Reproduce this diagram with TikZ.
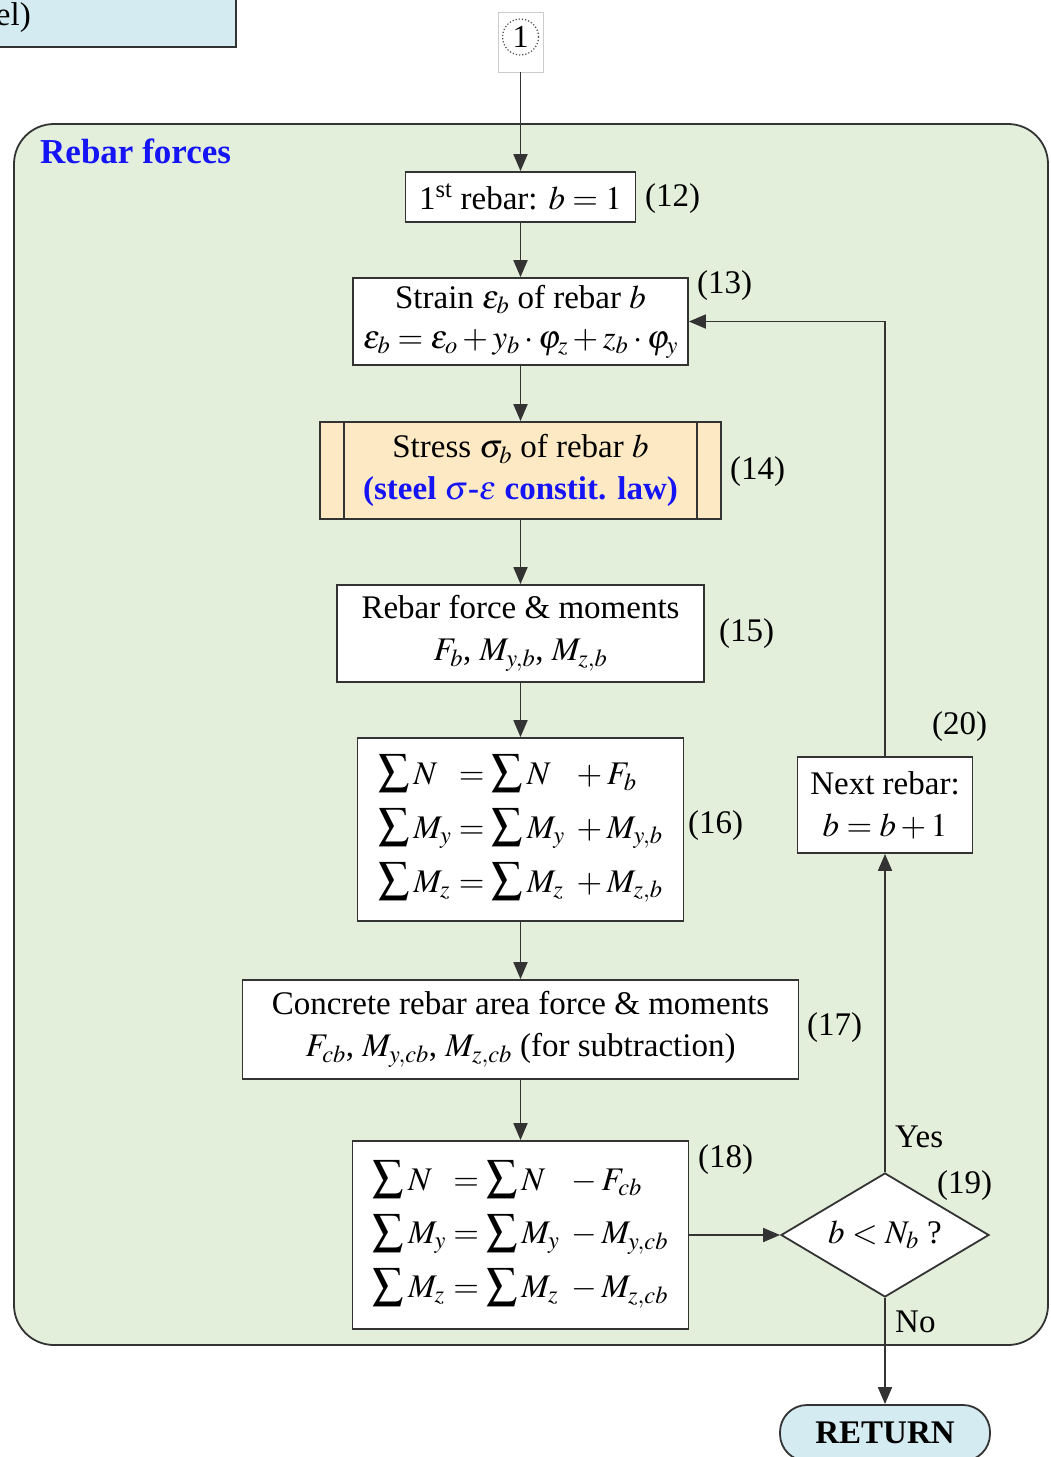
\documentclass[tikz,border=0pt]{standalone}
\usepackage{mathptmx}
\usepackage{fontspec}
\setmainfont{Liberation Serif}
\usetikzlibrary{arrows.meta,shapes.geometric}
\definecolor{linec}{HTML}{333333}
\definecolor{grn}{HTML}{E3EFDA}
\definecolor{orng}{HTML}{FDEAC4}
\definecolor{lblue}{HTML}{D4EBF1}
\definecolor{tblue}{HTML}{1414F5}
\newcommand\fs{\fontsize{33}{40}\selectfont}
\newcommand\bsum{\mathop{\mbox{\fontsize{44}{44}\selectfont$\sum$}}\nolimits}
\tikzset{
  pbox/.style={draw=linec, line width=1.8pt, fill=white, inner sep=0pt, align=center, font=\fs},
  lbl/.style={font=\fs, inner sep=0pt, anchor=west},
  conn/.style={draw=linec, line width=1.8pt, -{Triangle[length=17pt,width=14pt]}},
}
\begin{document}
\begin{tikzpicture}[x=1pt,y=-1pt]
\useasboundingbox (0,0) rectangle (1050,1457);
\clip (0,0) rectangle (1050,1457);
% partial box top left
\draw[draw=linec, line width=1.8pt, fill=lblue] (-60,-60) rectangle (236,47);
\node[lbl, anchor=east] (tl) at (31,18) {el)};
% container
\draw[draw=linec, line width=1.8pt, fill=grn, rounded corners=40pt] (14,124) rectangle (1048,1345);
\node[lbl, font=\fontsize{35}{40}\selectfont\bfseries, text=tblue] (title) at (40,151) {Rebar forces};
% connector 1
\node[draw=black!20, line width=0.8pt, minimum width=45pt, minimum height=60pt, inner sep=0pt] (c1) at (520.5,42) {};
\node[draw=black!70, dotted, line width=1.2pt, circle, minimum size=36pt, inner sep=0pt, font=\fontsize{32}{34}\selectfont] (c1t) at (520.5,37) {1};
% boxes
\node[pbox, minimum width=230pt, minimum height=50pt] (b12) at (520.5,197) {1\textsuperscript{st} rebar: $b=1$};
\node[pbox, minimum width=335pt, minimum height=87pt] (b13) at (520.5,321.5) {Strain $\varepsilon_b$ of rebar $b$\\[0pt] $\varepsilon_b=\varepsilon_o+y_b\cdot\varphi_z+z_b\cdot\varphi_y$};
\node[pbox, fill=orng, minimum width=401pt, minimum height=97pt] (b14) at (520.5,470.5) {Stress $\sigma_b$ of rebar $b$\\[2pt] \textcolor{tblue}{\bfseries (steel $\sigma$-$\varepsilon$ constit. law)}};
\draw[draw=linec, line width=1.8pt] ([xshift=25pt]b14.north west) -- ([xshift=25pt]b14.south west);
\draw[draw=linec, line width=1.8pt] ([xshift=-25pt]b14.north east) -- ([xshift=-25pt]b14.south east);
\node[pbox, minimum width=367pt, minimum height=97pt] (b15) at (520.5,633.5) {Rebar force \& moments\\[2pt] $F_b$, $M_{y,b}$, $M_{z,b}$};
\node[pbox, minimum width=326pt, minimum height=183pt] (b16) at (520.5,829.5) {$\begin{array}{@{}l@{\;}c@{\;}l@{\;}l@{}}
\bsum N & = & \bsum N & {}+F_b\\[12pt]
\bsum M_y & = & \bsum M_y & {}+M_{y,b}\\[12pt]
\bsum M_z & = & \bsum M_z & {}+M_{z,b}
\end{array}$};
\node[pbox, minimum width=556pt, minimum height=99pt] (b17) at (520.5,1029.5) {Concrete rebar area force \& moments\\[2pt] $F_{cb}$, $M_{y,cb}$, $M_{z,cb}$ (for subtraction)};
\node[pbox, minimum width=336pt, minimum height=188pt] (b18) at (520.5,1235) {$\begin{array}{@{}l@{\;}c@{\;}l@{\;}l@{}}
\bsum N & = & \bsum N & {}-F_{cb}\\[12pt]
\bsum M_y & = & \bsum M_y & {}-M_{y,cb}\\[12pt]
\bsum M_z & = & \bsum M_z & {}-M_{z,cb}
\end{array}$};
\node[draw=linec, line width=1.8pt, fill=white, diamond, aspect=1.68, minimum width=208pt, minimum height=124pt, inner sep=0pt, font=\fs] (d19) at (885,1235) {$b<N_b$ ?};
\node[pbox, minimum width=175pt, minimum height=96pt] (b20) at (885,805) {Next rebar:\\[2pt] $b=b+1$};
\node[pbox, fill=lblue, rounded corners=27pt, minimum width=210pt, minimum height=56pt, font=\fs\bfseries] (ret) at (885,1433) {RETURN};
% labels
\node[lbl] (l12) at (645,199) {(12)};
\node[lbl] (l13) at (697,286) {(13)};
\node[lbl] (l14) at (730,472) {(14)};
\node[lbl] (l15) at (719,634) {(15)};
\node[lbl] (l16) at (688,826) {(16)};
\node[lbl] (l17) at (807,1028) {(17)};
\node[lbl] (l18) at (698,1160) {(18)};
\node[lbl] (l19) at (937,1186) {(19)};
\node[lbl] (l20) at (932,727) {(20)};
\node[lbl] (yes) at (895,1137) {Yes};
\node[lbl] (no) at (895,1322) {No};
% connectors
\draw[conn] (c1.south) -- (b12.north);
\draw[conn] (b12) -- (b13);
\draw[conn] (b13) -- (b14);
\draw[conn] (b14) -- (b15);
\draw[conn] (b15) -- (b16);
\draw[conn] (b16) -- (b17);
\draw[conn] (b17) -- (b18);
\draw[conn] (b18.east) -- (d19.west);
\draw[conn] (d19.north) -- (b20.south);
\draw[conn] (b20.north) |- (b13.east);
\draw[conn] (d19.south) -- (ret.north);
\end{tikzpicture}
\end{document}
